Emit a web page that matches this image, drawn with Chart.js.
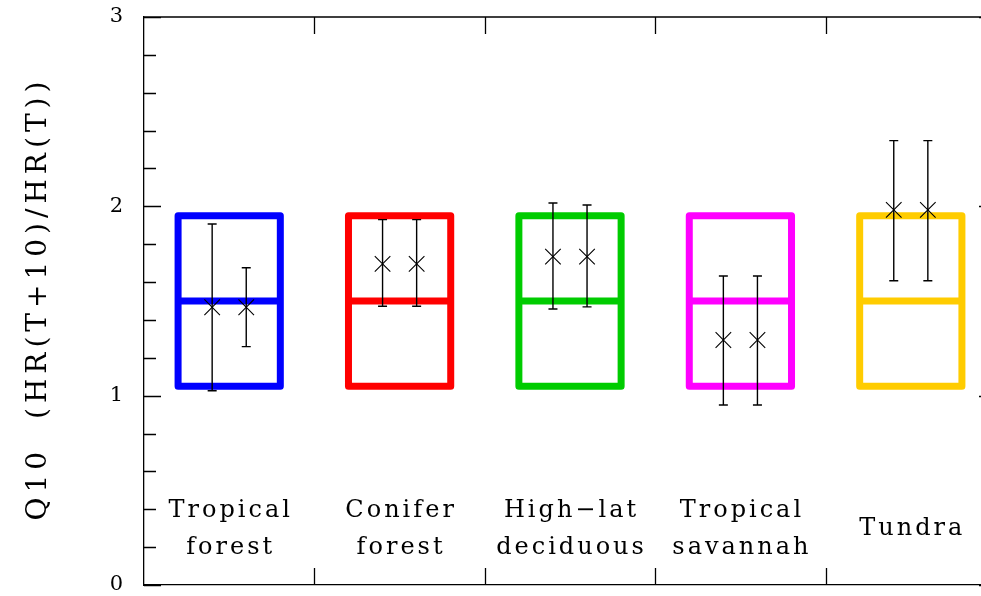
<!DOCTYPE html>
<html>
<head>
<meta charset="utf-8">
<script src="https://cdn.jsdelivr.net/npm/chart.js@4.4.1/dist/chart.umd.min.js"></script>
<style>
  html, body { margin: 0; padding: 0; background: #fff; overflow: hidden; }
  #wrap { width: 1000px; height: 596px; position: relative; }
</style>
</head>
<body>
<div id="wrap"><canvas id="c" width="1000" height="596"></canvas></div>
<script>
// ---- data ----
const categories = [["Tropical", "forest"], ["Conifer", "forest"], ["High\u2212lat", "deciduous"], ["Tropical", "savannah"], ["Tundra"]];
const boxColors = ["#0000ff", "#ff0000", "#00cc00", "#ff00ff", "#ffcc00"];
const boxLow  = [1.05, 1.05, 1.05, 1.05, 1.05];
const boxMid  = [1.50, 1.50, 1.50, 1.50, 1.50];
const boxHigh = [1.95, 1.95, 1.95, 1.95, 1.95];
// left-hand estimate in each biome
const seriesA   = [1.467, 1.696, 1.734, 1.294, 1.981];
const seriesALo = [1.026, 1.472, 1.458, 0.951, 1.607];
const seriesAHi = [1.907, 1.930, 2.018, 1.632, 2.347];
// right-hand estimate in each biome
const seriesB   = [1.467, 1.696, 1.734, 1.294, 1.981];
const seriesBLo = [1.259, 1.472, 1.469, 0.951, 1.607];
const seriesBHi = [1.676, 1.930, 2.007, 1.632, 2.347];
const yTickLabels = ["0", "1", "2", "3"];
const yTitle = "Q10  (HR(T+10)/HR(T))";

const offA = -0.1, offB = 0.1, boxHalf = 0.3;

const ptsA = seriesA.map((v, i) => ({x: i + offA, y: v}));
const ptsB = seriesB.map((v, i) => ({x: i + offB, y: v}));

const FONT = "'DejaVu Serif', 'Liberation Serif', serif";

const decor = {
  id: 'decor',
  beforeDatasetsDraw(chart) {
    const {ctx, scales: {x, y}} = chart;
    ctx.save();
    // boxes
    ctx.lineWidth = 7;
    ctx.lineJoin = 'round';
    for (let i = 0; i < boxColors.length; i++) {
      const x0 = x.getPixelForValue(i - boxHalf), x1 = x.getPixelForValue(i + boxHalf);
      const yl = y.getPixelForValue(boxLow[i]), yh = y.getPixelForValue(boxHigh[i]), ym = y.getPixelForValue(boxMid[i]);
      ctx.strokeStyle = boxColors[i];
      ctx.strokeRect(x0, yh, x1 - x0, yl - yh);
      ctx.beginPath();
      ctx.moveTo(x0, ym); ctx.lineTo(x1, ym);
      ctx.stroke();
    }
    // error bars
    ctx.strokeStyle = '#000';
    ctx.lineWidth = 1.4;
    ctx.lineJoin = 'miter';
    const bars = (vals, lo, hi, off) => {
      for (let i = 0; i < vals.length; i++) {
        const px = x.getPixelForValue(i + off);
        const pl = y.getPixelForValue(lo[i]), ph = y.getPixelForValue(hi[i]);
        ctx.beginPath();
        ctx.moveTo(px, pl); ctx.lineTo(px, ph);
        ctx.moveTo(px - 4.5, pl); ctx.lineTo(px + 4.5, pl);
        ctx.moveTo(px - 4.5, ph); ctx.lineTo(px + 4.5, ph);
        ctx.stroke();
      }
    };
    bars(seriesA, seriesALo, seriesAHi, offA);
    bars(seriesB, seriesBLo, seriesBHi, offB);
    ctx.restore();
  },
  afterDraw(chart) {
    const {ctx, chartArea: a, scales: {x, y}} = chart;
    ctx.save();
    ctx.strokeStyle = '#000';
    ctx.lineWidth = 1.3;
    ctx.beginPath();
    // frame top and right
    ctx.moveTo(a.left, a.top); ctx.lineTo(a.right, a.top); ctx.lineTo(a.right, a.bottom);
    // y ticks (inward) left and right
    y.ticks.forEach(t => {
      const py = Math.round(y.getPixelForValue(t.value)) + 0.5;
      const major = Math.abs(t.value - Math.round(t.value)) < 1e-6;
      const len = major ? 17 : 12;
      ctx.moveTo(a.left, py); ctx.lineTo(a.left + len, py);
      ctx.moveTo(a.right, py); ctx.lineTo(a.right - len, py);
    });
    // x ticks (inward) top and bottom
    x.ticks.forEach(t => {
      const px = Math.round(x.getPixelForValue(t.value)) + 0.5;
      ctx.moveTo(px, a.bottom); ctx.lineTo(px, a.bottom - 17);
      ctx.moveTo(px, a.top); ctx.lineTo(px, a.top + 17);
    });
    ctx.stroke();
    // category labels
    ctx.fillStyle = '#000';
    ctx.font = "24px " + FONT;
    ctx.letterSpacing = '3px';
    ctx.textAlign = 'center';
    ctx.textBaseline = 'middle';
    categories.forEach((lines, i) => {
      const px = x.getPixelForValue(i) + 1.5;
      if (lines.length === 2) {
        ctx.fillText(lines[0], px, y.getPixelForValue(0.39));
        ctx.fillText(lines[1], px, y.getPixelForValue(0.195));
      } else {
        ctx.fillText(lines[0], px, y.getPixelForValue(0.296));
      }
    });
    // y title
    ctx.font = "28px " + FONT;
    ctx.letterSpacing = '5px';
    ctx.translate(39, (a.top + a.bottom) / 2);
    ctx.rotate(-Math.PI / 2);
    ctx.fillText(yTitle, 2.5, 0);
    ctx.letterSpacing = '0px';
    ctx.restore();
  }
};

new Chart(document.getElementById('c'), {
  type: 'scatter',
  data: {
    datasets: [
      { data: ptsA, pointStyle: 'crossRot', radius: 11, borderColor: '#000', borderWidth: 1.1, backgroundColor: '#000' },
      { data: ptsB, pointStyle: 'crossRot', radius: 11, borderColor: '#000', borderWidth: 1.1, backgroundColor: '#000' }
    ]
  },
  options: {
    responsive: false,
    animation: false,
    events: [],
    layout: { autoPadding: false, padding: { top: 17, right: 4, left: 0, bottom: 0 } },
    plugins: { legend: { display: false }, tooltip: { enabled: false } },
    scales: {
      x: {
        type: 'linear', min: -0.5, max: 4.5,
        afterBuildTicks(s) { s.ticks = [0.5, 1.5, 2.5, 3.5].map(v => ({value: v})); },
        afterFit(s) { s.height = 11; s.paddingLeft = 0; s.paddingRight = 0; },
        ticks: { display: false },
        grid: { drawOnChartArea: false, drawTicks: false },
        border: { display: true, color: '#000', width: 1.3 }
      },
      y: {
        min: 0, max: 3,
        ticks: {
          stepSize: 0.2,
          autoSkip: false,
          padding: 21,
          color: '#000',
          font: { family: FONT, size: 21 },
          callback(v) {
            const r = Math.round(v);
            return Math.abs(v - r) < 1e-6 ? yTickLabels[r] : '';
          }
        },
        afterFit(s) { s.width = 144; s.paddingTop = 0; s.paddingBottom = 0; },
        grid: { drawOnChartArea: false, drawTicks: false },
        border: { display: true, color: '#000', width: 1.3 }
      }
    }
  },
  plugins: [decor]
});
</script>
</body>
</html>
